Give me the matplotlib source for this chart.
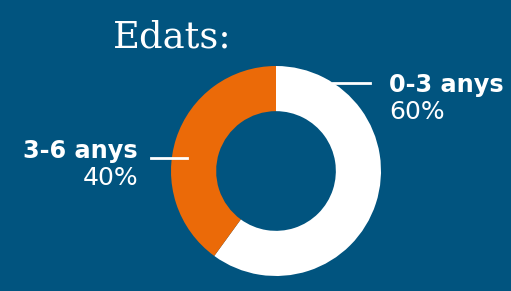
import matplotlib.pyplot as plt

labels = ["0-3 anys", "3-6 anys"]
values = [60, 40]
colors = ["#ffffff", "#eb6a08"]
bg = "#01547f"

fig = plt.figure(figsize=(5.11, 2.91), dpi=100, facecolor=bg)

# donut
ax = fig.add_axes([171 / 511, 15 / 291, 210 / 511, 210 / 291])
ax.pie(values, colors=colors, startangle=90, counterclock=False,
       wedgeprops=dict(width=0.43, edgecolor="none"), radius=1)
ax.set_xlim(-1, 1)
ax.set_ylim(-1, 1)
ax.set_aspect("equal")
ax.axis("off")

# overlay in pixel coords for labels
ov = fig.add_axes([0, 0, 1, 1], facecolor="none")
ov.set_xlim(0, 511)
ov.set_ylim(291, 0)
ov.axis("off")

ov.text(172, 47, "Edats:", family="DejaVu Serif", fontsize=26.5,
        color="white", ha="center", va="baseline")

ov.plot([333, 370], [83, 83], color="white", lw=2)
ov.plot([151, 187], [158, 158], color="white", lw=2)

ov.text(389, 92, labels[0], family="DejaVu Sans", fontweight="bold", fontsize=17.3,
        color="white", ha="left", va="baseline")
ov.text(389, 119, f"{values[0]}%", family="DejaVu Sans", fontsize=18,
        color="white", ha="left", va="baseline")
ov.text(138, 158, labels[1], family="DejaVu Sans", fontweight="bold", fontsize=17.3,
        color="white", ha="right", va="baseline")
ov.text(138, 185, f"{values[1]}%", family="DejaVu Sans", fontsize=18,
        color="white", ha="right", va="baseline")

fig.savefig("out.png", dpi=100, facecolor=bg)
